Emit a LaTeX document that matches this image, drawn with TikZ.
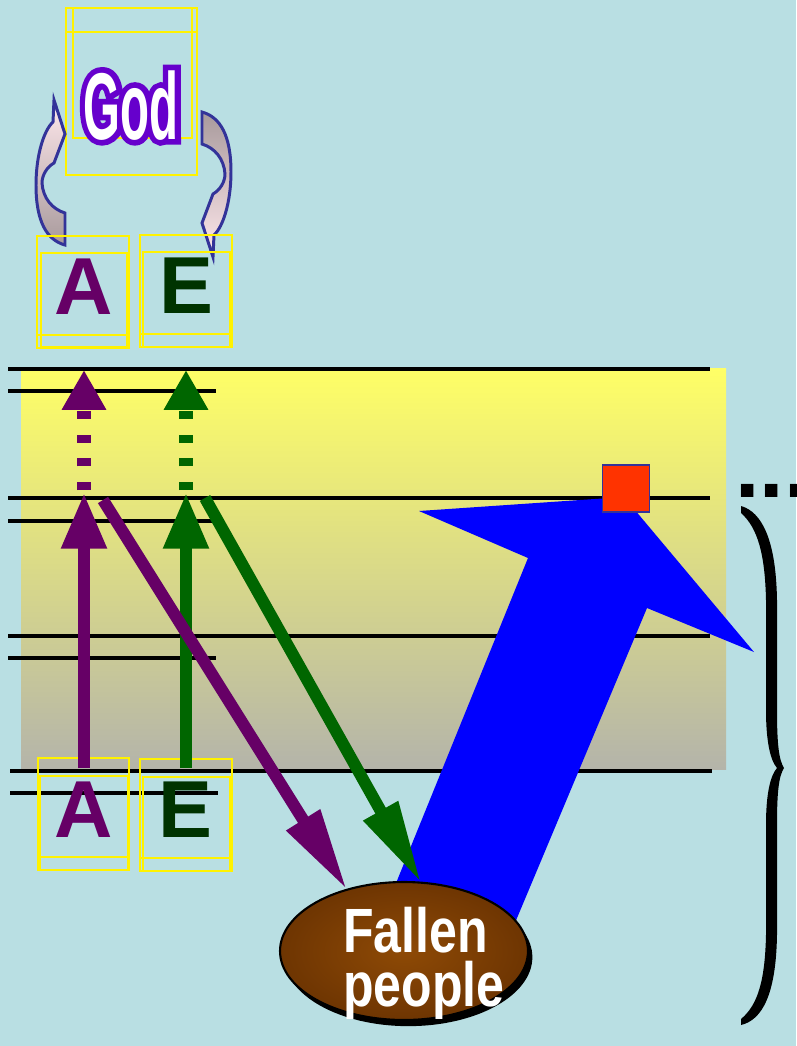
\documentclass[tikz,border=0pt]{standalone}
\usepackage{fontspec}
\setmainfont{Liberation Sans}
\newfontfamily\godfont[FakeStretch=0.5]{Liberation Sans}
\newfontfamily\godedge[FakeStretch=0.5, FakeBold=12]{Liberation Sans}
\newfontfamily\fallfont[FakeStretch=0.8]{Liberation Sans}
\usetikzlibrary{arrows.meta,shapes.geometric,shadows}
\definecolor{bgcyan}{HTML}{B9DFE3}
\definecolor{bandtop}{HTML}{FFFF66}
\definecolor{bandbot}{HTML}{B4B4AA}
\definecolor{apurple}{HTML}{660066}
\definecolor{egreen}{HTML}{006600}
\definecolor{eletter}{HTML}{003300}
\definecolor{godpurple}{HTML}{6600CC}
\definecolor{arrowblue}{HTML}{333399}
\definecolor{pinkw}{HTML}{FFE8EC}
\definecolor{graybr}{HTML}{A89A9C}
\definecolor{redsq}{HTML}{FF3300}
\definecolor{bigblue}{HTML}{0000FF}
\definecolor{brownin}{HTML}{8E4A06}
\definecolor{brownout}{HTML}{6E3502}

\begin{document}
\begin{tikzpicture}[x=0.02cm, y=-0.02cm,
    txtbox/.style={draw=yellow, line width=0.8pt},
    hline/.style={line width=2.3pt},
    letter/.style={anchor=base, inner sep=0pt, font=\fontsize{46pt}{46pt}\selectfont\bfseries},
    godtxt/.style={anchor=base, inner sep=0pt, font=\godfont\bfseries\fontsize{54pt}{54pt}\selectfont},
    uparrow/.style={line width=6.8pt, -{Triangle[length=31.7pt,width=24.4pt]}},
    dasharrow/.style={line width=8.5pt, dash pattern=on 4.5pt off 9pt, -{Triangle[length=22.7pt,width=23.8pt]}},
    downarrow/.style={line width=6.8pt, -{Triangle[length=47pt,width=21pt]}},
    turnarrow/.style={draw=arrowblue, line width=1.7pt}
]
\useasboundingbox[fill=bgcyan] (0,0) rectangle (796,1046);

% Band and rules
\shade[top color=bandtop, bottom color=bandbot] (21,368) rectangle (726,769);
\draw[hline] (8,369) -- (710,369);
\draw[hline] (8,391) -- (216,391);
\draw[hline] (8,498) -- (710,498);
\draw[hline] (8,521) -- (216,521);
\draw[hline] (8,636) -- (710,636);
\draw[hline] (8,658) -- (216,658);
\draw[hline] (10,771) -- (712,771);
\draw[hline] (10,793) -- (218,793);

% God
\draw[txtbox] (66,8) rectangle (197,175);
\draw[txtbox] (73,8) rectangle (192,138);
\draw[txtbox] (66,32) -- (197,32);
\coordinate (godbase) at (131,139);
\node[godtxt, text=godpurple, font=\godedge\bfseries\fontsize{54pt}{54pt}\selectfont] (godring) at (godbase) {God};
\node[godtxt, text=white] (god) at (godbase) {God};

% Turning arrows
\foreach \rot/\ctop/\cbot in {0/pinkw/graybr, 180/graybr/pinkw}
  \path[turnarrow, top color=\ctop, bottom color=\cbot, rotate around={\rot:(133.5,178.5)}]
    (54,100) -- (65,134) -- (54,163)
    .. controls (47,167) and (42,175) .. (42,183)
    .. controls (43,198) and (52,209) .. (65,213) -- (65,245)
    .. controls (47,240) and (36,222) .. (36,185)
    .. controls (36,155) and (44,130) .. (53,122) -- cycle;

% Upper A and E
\draw[txtbox] (37,236) rectangle (129,348);
\draw[txtbox] (41,253) rectangle (127,347);
\draw[txtbox] (37,335) -- (129,335);
\draw[txtbox] (140,235) rectangle (232,347);
\draw[txtbox] (143,252) rectangle (230,347);
\draw[txtbox] (140,334) -- (232,334);
\node[letter, text=apurple] (atop) at (84,314) {A};
\node[letter, text=eletter] (etop) at (186,313) {E};

% Lower A and E
\draw[txtbox] (38,758) rectangle (129,870);
\draw[txtbox] (40,776) rectangle (128,870);
\draw[txtbox] (38,857) -- (129,857);
\draw[txtbox] (140,759) rectangle (232,871);
\draw[txtbox] (143,777) rectangle (230,871);
\draw[txtbox] (140,858) -- (232,858);
\node[letter, text=apurple] (abot) at (84,837) {A};
\node[letter, text=eletter] (ebot) at (185,837) {E};

% Big blue arrow
\fill[bigblue] (624,497) -- (754,652) -- (647,608) -- (512,930) -- (377,930)
  -- (528,558) -- (419,511) -- cycle;
\node[draw=arrowblue, line width=0.8pt, fill=redsq, minimum size=0.94cm, inner sep=0pt] (mark) at (626,488.5) {};

% Fallen people
\node[ellipse, draw=black, line width=1.2pt, inner color=brownin, outer color=brownout,
  minimum width=4.96cm, minimum height=2.76cm, inner sep=0pt, outer sep=0pt,
  drop shadow={shadow xshift=2.5pt, shadow yshift=-3.5pt, opacity=1, fill=black}] (fallen) at (404,951) {};
\node[anchor=north west, inner sep=0pt, align=left, text=white,
  font=\fallfont\bfseries\fontsize{35.6pt}{30.6pt}\selectfont] (fallenlbl) at (343,907) {Fallen\\people};

% Arrows
\coordinate (alow) at (84,768);
\coordinate (elow) at (186,768);
\coordinate (amid) at (84,493);
\coordinate (emid) at (186,493);
\coordinate (adash) at (84,490);
\coordinate (edash) at (186,490);
\coordinate (ahigh) at (84,370);
\coordinate (ehigh) at (186,370);
\coordinate (aturn) at (103,500);
\coordinate (eturn) at (205,498);
\draw[uparrow, apurple] (alow) -- (amid);
\draw[uparrow, egreen] (elow) -- (emid);
\draw[dasharrow, apurple] (adash) -- (ahigh);
\draw[dasharrow, egreen] (edash) -- (ehigh);
\draw[downarrow, egreen] (eturn) -- (fallen.76);
\draw[downarrow, apurple] (aturn) -- (fallen.133);

% Brace
\node[anchor=base west, inner sep=0pt, font=\bfseries\fontsize{50pt}{50pt}\selectfont] (dots) at (735,497) {...};
\fill[black] (741,506) .. controls (762,512) and (776,540) .. (777,600) -- (777,710)
  .. controls (777,745) and (779,760) .. (784,768)
  .. controls (779,776) and (777,790) .. (777,825) -- (777,935)
  .. controls (776,995) and (762,1020) .. (741,1025) -- (741,1019)
  .. controls (758,1005) and (765,980) .. (766,935) -- (766,825)
  .. controls (766,795) and (770,776) .. (777,768)
  .. controls (770,760) and (766,740) .. (766,710) -- (766,600)
  .. controls (765,555) and (758,528) .. (741,513) -- cycle;
\end{tikzpicture}
\end{document}
